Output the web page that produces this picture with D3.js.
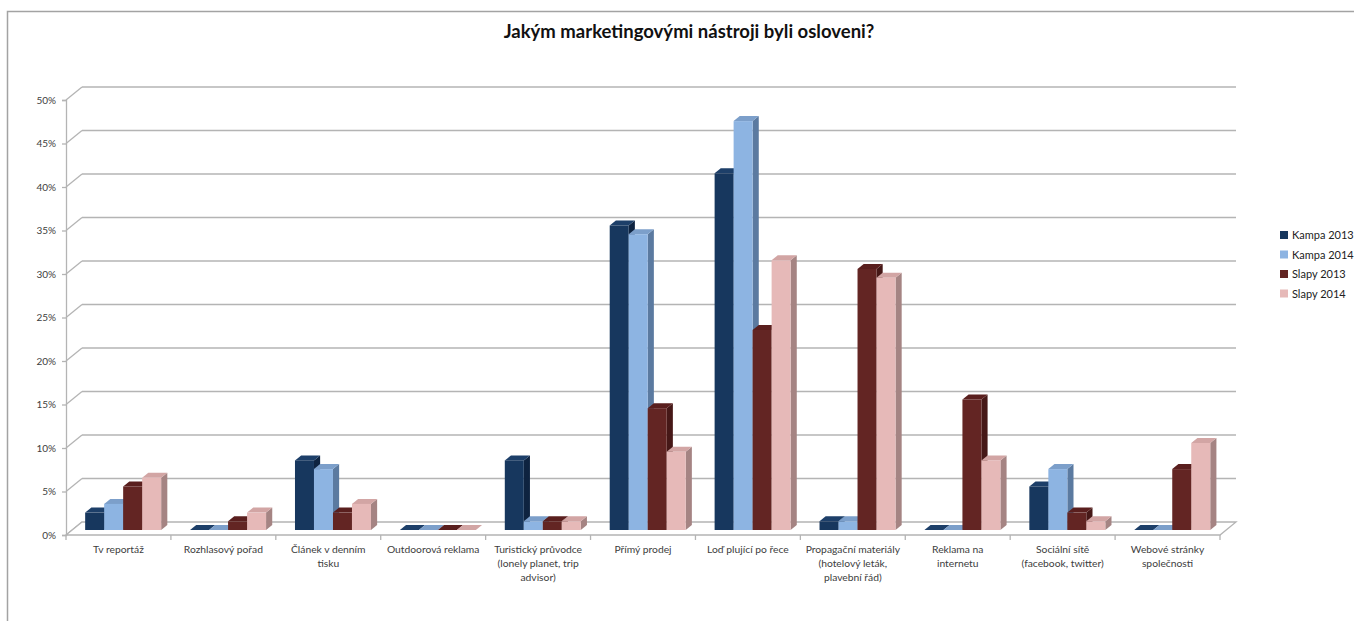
<!DOCTYPE html>
<html>
<head>
<meta charset="utf-8">
<script src="https://cdn.jsdelivr.net/npm/d3@7"></script>
<style>
  html, body { margin: 0; padding: 0; background: #fff; overflow: hidden; }
  svg { display: block; font-family: Lato, "Open Sans", sans-serif; }
</style>
</head>
<body>
<svg id="chart" width="1354" height="621"></svg>
<script>
// Survey: which marketing channels reached the respondents (share of answers)
const categories = [
  "Tv reportáž",
  "Rozhlasový pořad",
  "Článek v denním\ntisku",
  "Outdoorová reklama",
  "Turistický průvodce\n(lonely planet, trip\nadvisor)",
  "Přímý prodej",
  "Loď plující po řece",
  "Propagační materiály\n(hotelový leták,\nplavební řád)",
  "Reklama na\ninternetu",
  "Sociální sítě\n(facebook, twitter)",
  "Webové stránky\nspolečnosti"
];
const seriesNames = ["Kampa 2013", "Kampa 2014", "Slapy 2013", "Slapy 2014"];
const kampa2013 = [0.02, 0.00, 0.08, 0.00, 0.08, 0.35, 0.41, 0.01, 0.00, 0.05, 0.00];
const kampa2014 = [0.03, 0.00, 0.07, 0.00, 0.01, 0.34, 0.47, 0.01, 0.00, 0.07, 0.00];
const slapy2013 = [0.05, 0.01, 0.02, 0.00, 0.01, 0.14, 0.23, 0.30, 0.15, 0.02, 0.07];
const slapy2014 = [0.06, 0.02, 0.03, 0.00, 0.01, 0.09, 0.31, 0.29, 0.08, 0.01, 0.10];
const yTicks = [0, 0.05, 0.10, 0.15, 0.20, 0.25, 0.30, 0.35, 0.40, 0.45, 0.50];
const titleText = "Jakým marketingovými nástroji byli osloveni?";

const seriesValues = [kampa2013, kampa2014, slapy2013, slapy2014];
// front, side and top face colours per series
const faces = [
  { front: "#17375e", side: "#0e2340", top: "#1d3f69" },
  { front: "#8db4e2", side: "#5b7aa0", top: "#7c9fca" },
  { front: "#632523", side: "#461817", top: "#5a1f1e" },
  { front: "#e6b9b8", side: "#a58483", top: "#d2a5a4" }
];

const svg = d3.select("#chart");
const gridColor = "#b4b4b4";
const textColor = "#404040";

// chart frame (top and left edges)
svg.append("path")
  .attr("d", "M7.5,621 L7.5,11.5 L1354,11.5")
  .attr("fill", "none").attr("stroke", "#a3a3a3").attr("stroke-width", 1.5);

// title
svg.append("text")
  .attr("x", 689).attr("y", 38)
  .attr("text-anchor", "middle")
  .attr("font-size", 18.5).attr("font-weight", "bold")
  .attr("fill", "#111")
  .text(titleText);

// plot geometry: front plane + oblique depth vector
const plotLeft = 66, plotRight = 1220, plotBottom = 535, plotTop = 100;
const depthX = 16, depthY = -13;
const x = d3.scaleBand().domain(categories).range([plotLeft, plotRight]);
const y = d3.scaleLinear().domain([0, 0.5]).range([plotBottom, plotTop]);
const inner = d3.scaleBand().domain(seriesNames).range([13, 13 + 76]);

// back wall gridlines and side-wall diagonals
const grid = svg.append("g");
yTicks.forEach(t => {
  if (t > 0) {
    grid.append("line")
      .attr("x1", plotLeft + depthX).attr("x2", plotRight + depthX)
      .attr("y1", y(t) + depthY).attr("y2", y(t) + depthY)
      .attr("stroke", gridColor).attr("stroke-width", 1.3);
  }
  grid.append("line")
    .attr("x1", plotLeft).attr("y1", y(t))
    .attr("x2", plotLeft + depthX).attr("y2", y(t) + depthY)
    .attr("stroke", gridColor).attr("stroke-width", 1.3);
});

// floor
grid.append("path")
  .attr("d", `M${plotLeft},${plotBottom} L${plotRight},${plotBottom} L${plotRight + depthX},${plotBottom + depthY} L${plotLeft + depthX},${plotBottom + depthY} Z`)
  .attr("fill", "#fff").attr("stroke", gridColor).attr("stroke-width", 1.3);

// vertical axis
const yAxis = d3.axisLeft(y).tickValues(yTicks).tickSize(4).tickPadding(6)
  .tickFormat(d3.format(".0%"));
const yg = svg.append("g").attr("transform", `translate(${plotLeft},0)`).call(yAxis);
yg.select(".domain").attr("stroke", gridColor).attr("stroke-width", 1.3);
yg.selectAll(".tick line").attr("stroke", gridColor).attr("stroke-width", 1.3);
yg.selectAll(".tick text").attr("fill", textColor).attr("font-size", 10)
  .attr("font-family", "Lato, 'Open Sans', sans-serif");

// category axis ticks at band boundaries
const bounds = categories.map(c => x(c)).concat([plotRight]);
svg.append("g").selectAll("line").data(bounds).join("line")
  .attr("x1", d => d).attr("x2", d => d)
  .attr("y1", plotBottom).attr("y2", plotBottom + 5)
  .attr("stroke", gridColor).attr("stroke-width", 1.3);

// category labels (multi-line)
const labels = svg.append("g").attr("font-size", 10.3).attr("fill", textColor)
  .attr("text-anchor", "middle");
categories.forEach(c => {
  const cx = x(c) + x.bandwidth() / 2;
  const t = labels.append("text").attr("x", cx).attr("y", 553);
  c.split("\n").forEach((line, i) => {
    t.append("tspan").attr("x", cx).attr("dy", i === 0 ? 0 : 14).text(line);
  });
});

// 3D bars: front face sits partway into the depth
const f0 = 0.385, f1 = 0.77;
const ox = depthX * f0, oy = depthY * f0;
const bdx = depthX * (f1 - f0), bdy = depthY * (f1 - f0);
const bars = svg.append("g");
categories.forEach((c, ci) => {
  seriesNames.forEach((s, si) => {
    const v = seriesValues[si][ci];
    const x0 = x(c) + inner(s) + ox;
    const w = inner.bandwidth();
    const y0 = y(0) + oy;
    const y1 = y(v) + oy;
    const col = faces[si];
    const g = bars.append("g");
    // side face
    g.append("path")
      .attr("d", `M${x0 + w},${y1} L${x0 + w + bdx},${y1 + bdy} L${x0 + w + bdx},${y0 + bdy} L${x0 + w},${y0} Z`)
      .attr("fill", col.side);
    // top face
    g.append("path")
      .attr("d", `M${x0},${y1} L${x0 + bdx},${y1 + bdy} L${x0 + w + bdx},${y1 + bdy} L${x0 + w},${y1} Z`)
      .attr("fill", col.top);
    // front face
    if (v > 0) {
      g.append("rect")
        .attr("x", x0).attr("y", y1)
        .attr("width", w).attr("height", y0 - y1)
        .attr("fill", col.front);
    }
  });
});

// legend
const legend = svg.append("g").attr("font-size", 11).attr("fill", "#222");
seriesNames.forEach((s, i) => {
  const ly = 235 + i * 19.5;
  legend.append("rect")
    .attr("x", 1280).attr("y", ly - 4).attr("width", 8).attr("height", 8)
    .attr("fill", faces[i].front);
  legend.append("text").attr("x", 1292).attr("y", ly + 4).text(s);
});
</script>
</body>
</html>
